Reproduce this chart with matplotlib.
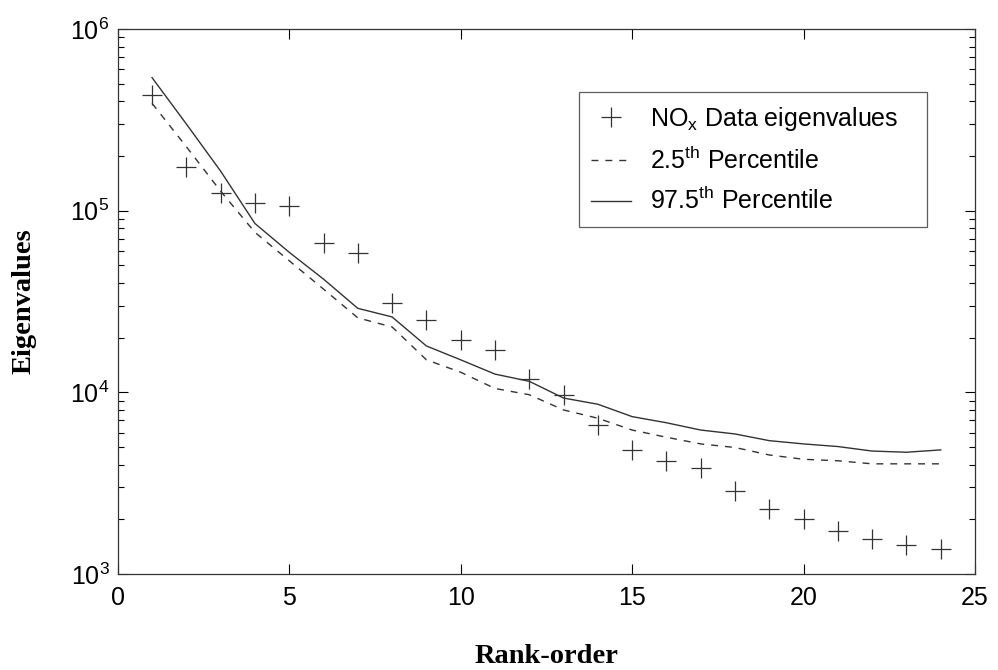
import numpy as np
import matplotlib
matplotlib.use('Agg')
import matplotlib.pyplot as plt

plt.rcParams['font.family'] = ['Liberation Sans', 'DejaVu Sans']
plt.rcParams['mathtext.fontset'] = 'custom'
plt.rcParams['mathtext.rm'] = 'Liberation Sans'
plt.rcParams['mathtext.it'] = 'Liberation Sans'

rank = np.arange(1, 25)
data_eig = [4.33e5, 1.74e5, 1.25e5, 1.10e5, 1.06e5, 6.6e4, 5.85e4, 3.1e4,
            2.5e4, 1.94e4, 1.71e4, 1.18e4, 9.7e3, 6.6e3, 4.82e3, 4.19e3,
            3.83e3, 2.86e3, 2.28e3, 2.01e3, 1.73e3, 1.56e3, 1.45e3, 1.37e3]
pct_025 = [3.9e5, 2.25e5, 1.28e5, 7.6e4, 5.3e4, 3.7e4, 2.57e4, 2.29e4,
           1.51e4, 1.29e4, 1.05e4, 9.7e3, 8.0e3, 7.2e3, 6.2e3, 5.66e3,
           5.2e3, 4.97e3, 4.52e3, 4.28e3, 4.2e3, 4.04e3, 4.04e3, 4.04e3]
pct_975 = [5.4e5, 3.0e5, 1.65e5, 8.5e4, 5.9e4, 4.2e4, 2.9e4, 2.6e4,
           1.8e4, 1.51e4, 1.26e4, 1.15e4, 9.3e3, 8.6e3, 7.35e3, 6.8e3,
           6.2e3, 5.9e3, 5.42e3, 5.2e3, 5.03e3, 4.75e3, 4.68e3, 4.82e3]

fig = plt.figure(figsize=(9.98, 6.70), dpi=100)
ax = fig.add_axes([0.118, 0.1433, 0.859, 0.8134])

ax.semilogy(rank, data_eig, '+', color='#333333', markersize=14.5, markeredgewidth=0.9,
            label=r'NO$_{\mathrm{x}}$ Data eigenvalues')
ax.semilogy(rank, pct_025, '--', color='#333333', linewidth=1.0, dashes=(5, 5),
            label=r'2.5$^{\mathrm{th}}$ Percentile')
ax.semilogy(rank, pct_975, '-', color='#333333', linewidth=1.0,
            label=r'97.5$^{\mathrm{th}}$ Percentile')

ax.set_xlim(0, 25)
ax.set_ylim(1e3, 1e6)
ax.set_xticks([0, 5, 10, 15, 20, 25])
ax.tick_params(which='both', direction='in', top=True, right=True, labelsize=18)
ax.tick_params(which='major', length=7, width=0.8)
ax.tick_params(which='minor', length=4, width=0.8)
ax.tick_params(axis='x', pad=9)
ax.tick_params(axis='y', pad=6)
for s in ax.spines.values():
    s.set_linewidth(0.9)
    s.set_color('#333333')

ax.set_xlabel('Rank-order', family='Liberation Serif', fontweight='bold',
              fontsize=20.5, labelpad=24)
ax.set_ylabel('Eigenvalues', family='Liberation Serif', fontweight='bold',
              fontsize=20.5, labelpad=24)

leg = ax.legend(loc='upper left', bbox_to_anchor=(0.538, 0.884, 0.406, 0.0),
                mode='expand', fontsize=18, frameon=True, fancybox=False,
                edgecolor='#333333', borderpad=0.5, labelspacing=0.55,
                handlelength=1.6, handletextpad=0.75, borderaxespad=0.0)
leg.get_frame().set_linewidth(0.9)

fig.savefig('out.png', dpi=100)
